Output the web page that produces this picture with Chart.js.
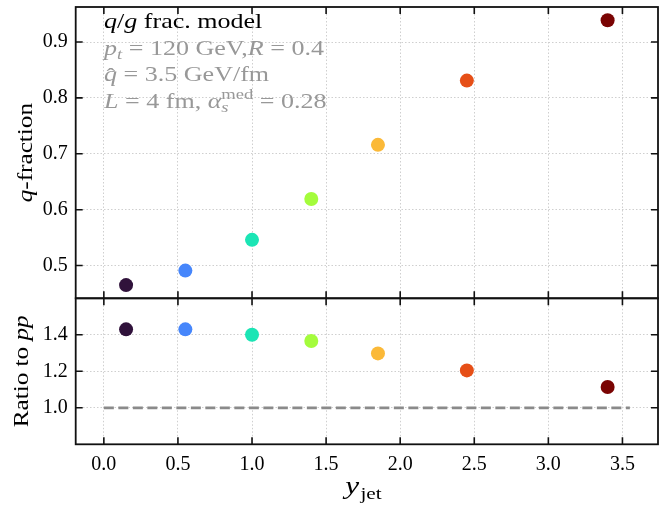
<!DOCTYPE html>
<html>
<head>
<meta charset="utf-8">
<script src="https://cdn.jsdelivr.net/npm/chart.js@4"></script>
<style>
  html, body { margin: 0; padding: 0; background: #fff; }
  #wrap { position: relative; width: 665px; height: 508px; }
  #wrap canvas { position: absolute; left: 0; top: 0; }
</style>
</head>
<body>
<div id="wrap">
  <canvas id="fracChart" width="665" height="508"></canvas>
  <canvas id="ratioChart" width="665" height="508"></canvas>
</div>
<script>
// Jet rapidity bins and the two observables per bin
const yJet = [0.15, 0.55, 1.0, 1.4, 1.85, 2.45, 3.4];
const qFraction = [0.465, 0.491, 0.546, 0.619, 0.716, 0.831, 0.939];
const ratioToPP = [1.430, 1.430, 1.400, 1.366, 1.298, 1.205, 1.114];
const binColors = ['#30123b', '#4686fb', '#1be5b5', '#a4fc3c', '#fbb938', '#e64f17', '#7a0403'];

// Reference line (ratio = 1)
const refLineX = [0, 3.55];
const refLineY = [1, 1];

// Tick values
const xTicks = [0, 0.5, 1.0, 1.5, 2.0, 2.5, 3.0, 3.5];
const yTicksFrac = [0.5, 0.6, 0.7, 0.8, 0.9];
const yTicksRatio = [1.0, 1.2, 1.4];

const FONT = '"Liberation Serif", "Times New Roman", serif';
const GRAY_TXT = '#989898';

// layout in canvas pixels
const AREA_LEFT = 75.7, AREA_RIGHT = 659, FRAC_TOP = 4.7, SPLIT = 298.3, RATIO_BOTTOM = 444.3;
const W = 665, H = 508;

function setTicks(values) {
  return function (scale) { scale.ticks = values.map(v => ({ value: v })); };
}

// --- mixed-style text rows (italic symbols, sub/superscripts) ---
function fontOf(r) { return (r.it ? 'italic ' : '') + r.size + 'px ' + FONT; }
function measure(ctx, r) { ctx.font = fontOf(r); return ctx.measureText(r.t).width; }
function runAdvance(ctx, r) {
  if (r.group) return Math.max(...r.group.map(g => measure(ctx, g))) + (r.sp || 0);
  if (r.noAdvance) return 0;
  return measure(ctx, r) + (r.sp || 0);
}
function runsWidth(ctx, runs, sx) {
  let w = 0;
  for (const r of runs) w += runAdvance(ctx, r);
  return w * sx;
}
function drawRuns(ctx, x, y, runs, color, sx) {
  ctx.save();
  ctx.translate(x, y);
  ctx.scale(sx, 1);
  ctx.fillStyle = color;
  ctx.textBaseline = 'alphabetic';
  ctx.textAlign = 'left';
  let cx = 0;
  for (const r of runs) {
    const parts = r.group || [r];
    for (const p of parts) {
      ctx.font = fontOf(p);
      ctx.fillText(p.t, cx + (p.dx || 0), p.dy || 0);
    }
    cx += runAdvance(ctx, r);
  }
  ctx.restore();
}

// frame with inward ticks on all four sides
const framePlugin = {
  id: 'frame',
  afterDatasetsDraw(chart) {
    const { ctx, chartArea: a, scales: { x, y } } = chart;
    ctx.save();
    ctx.strokeStyle = '#111';
    ctx.lineWidth = 1.6;
    ctx.beginPath();
    const L = 7;
    for (const t of x.ticks) {
      const px = x.getPixelForValue(t.value);
      ctx.moveTo(px, a.top); ctx.lineTo(px, a.top + L);
      ctx.moveTo(px, a.bottom); ctx.lineTo(px, a.bottom - L);
    }
    for (const t of y.ticks) {
      const py = y.getPixelForValue(t.value);
      ctx.moveTo(a.left, py); ctx.lineTo(a.left + L, py);
      ctx.moveTo(a.right, py); ctx.lineTo(a.right - L, py);
    }
    ctx.stroke();
    ctx.lineWidth = 1.8;
    ctx.strokeRect(a.left, a.top, a.right - a.left, a.bottom - a.top);
    ctx.restore();
  }
};

function rotatedTitle(ctx, runs, baseX, centerY, color, sx) {
  ctx.save();
  ctx.translate(baseX, centerY);
  ctx.rotate(-Math.PI / 2);
  const w = runsWidth(ctx, runs, sx);
  drawRuns(ctx, -w / 2, 0, runs, color, sx);
  ctx.restore();
}

const TITLE_SX = 1.2;
const NOTE_SX = 1.24;

const fracText = {
  id: 'fracText',
  afterDraw(chart) {
    const ctx = chart.ctx;
    const a = chart.chartArea;
    rotatedTitle(ctx, [
      { t: 'q', it: true, size: 21 },
      { t: '-fraction', size: 21 }
    ], 32, (a.top + a.bottom) / 2, '#000', TITLE_SX);

    const x0 = 104, s = 21, ss = 15;
    drawRuns(ctx, x0, 28, [
      { t: 'q', it: true, size: s },
      { t: '/', size: s },
      { t: 'g', it: true, size: s },
      { t: ' frac. model', size: s }
    ], '#000', NOTE_SX);
    drawRuns(ctx, x0, 54.5, [
      { t: 'p', it: true, size: s },
      { t: 't', it: true, size: ss, dy: 4 },
      { t: ' = 120 GeV,', size: s },
      { t: 'R', it: true, size: s },
      { t: ' = 0.4', size: s }
    ], GRAY_TXT, NOTE_SX);
    drawRuns(ctx, x0, 81, [
      { t: '\u02C6', size: s, dx: 2, dy: 2, noAdvance: true },
      { t: 'q', it: true, size: s },
      { t: ' = 3.5 GeV/fm', size: s }
    ], GRAY_TXT, NOTE_SX);
    drawRuns(ctx, x0, 107.5, [
      { t: 'L', it: true, size: s },
      { t: ' = 4 fm, ', size: s },
      { t: '\u03B1', it: true, size: s },
      { group: [
        { t: 'med', size: ss, dy: -9 },
        { t: 's', it: true, size: ss, dy: 4 }
      ] },
      { t: ' = 0.28', size: s }
    ], GRAY_TXT, NOTE_SX);
  }
};

const ratioText = {
  id: 'ratioText',
  afterDraw(chart) {
    const ctx = chart.ctx;
    const a = chart.chartArea;
    rotatedTitle(ctx, [
      { t: 'Ratio to ', size: 21 },
      { t: 'pp', it: true, size: 21 }
    ], 28, (a.top + a.bottom) / 2, '#000', TITLE_SX);
    const runs = [
      { t: 'y', it: true, size: 25 },
      { t: 'jet', size: 17, dy: 5, dx: 1 }
    ];
    const sx = 1.25;
    const w = runsWidth(ctx, runs, sx);
    drawRuns(ctx, (a.left + a.right) / 2 - w / 2 - 4, 494, runs, '#000', sx);
  }
};

const gridStyle = { color: '#cfcfcf', lineWidth: 1, drawTicks: false };
const borderStyle = { display: false, dash: [1.5, 2] };
const tickFont = { family: FONT, size: 20 };

function xScale(showLabels, height) {
  return {
    type: 'linear', min: -0.19, max: 3.74,
    afterBuildTicks: setTicks(xTicks),
    grid: gridStyle, border: borderStyle,
    ticks: { display: showLabels, font: tickFont, color: '#000', padding: 8,
             callback: v => Number(v).toFixed(1), maxRotation: 0 },
    afterFit(s) { s.height = height; s.paddingLeft = 0; s.paddingRight = 0; }
  };
}
function yScale(min, max, ticks) {
  return {
    type: 'linear', min, max,
    afterBuildTicks: setTicks(ticks),
    grid: gridStyle, border: borderStyle,
    ticks: { font: tickFont, color: '#000', padding: 8, callback: v => Number(v).toFixed(1) },
    afterFit(s) { s.width = AREA_LEFT; s.paddingTop = 0; s.paddingBottom = 0; }
  };
}

const pointData = yJet.map((x, i) => ({ x, y: qFraction[i] }));
const ratioData = yJet.map((x, i) => ({ x, y: ratioToPP[i] }));
const refData = refLineX.map((x, i) => ({ x, y: refLineY[i] }));

const common = {
  responsive: false, animation: false, events: [],
  plugins: { legend: { display: false }, tooltip: { enabled: false } }
};

new Chart(document.getElementById('fracChart'), {
  type: 'scatter',
  data: { datasets: [{
    data: pointData, backgroundColor: binColors, pointRadius: 7, borderWidth: 0
  }] },
  options: Object.assign({}, common, {
    layout: { padding: { left: 0, top: FRAC_TOP, right: W - AREA_RIGHT, bottom: 0 } },
    scales: { x: xScale(false, H - SPLIT), y: yScale(0.4414, 0.9627, yTicksFrac) }
  }),
  plugins: [framePlugin, fracText]
});

new Chart(document.getElementById('ratioChart'), {
  type: 'scatter',
  data: { datasets: [
    { type: 'line', data: refData, borderColor: '#8a8a8a', borderWidth: 2.8,
      borderDash: [10, 4.5], pointRadius: 0, fill: false },
    { data: ratioData, backgroundColor: binColors, pointRadius: 7, borderWidth: 0 }
  ] },
  options: Object.assign({}, common, {
    layout: { padding: { left: 0, top: SPLIT, right: W - AREA_RIGHT, bottom: 0 } },
    scales: { x: xScale(true, H - RATIO_BOTTOM), y: yScale(0.8, 1.6, yTicksRatio) }
  }),
  plugins: [framePlugin, ratioText]
});
</script>
</body>
</html>
